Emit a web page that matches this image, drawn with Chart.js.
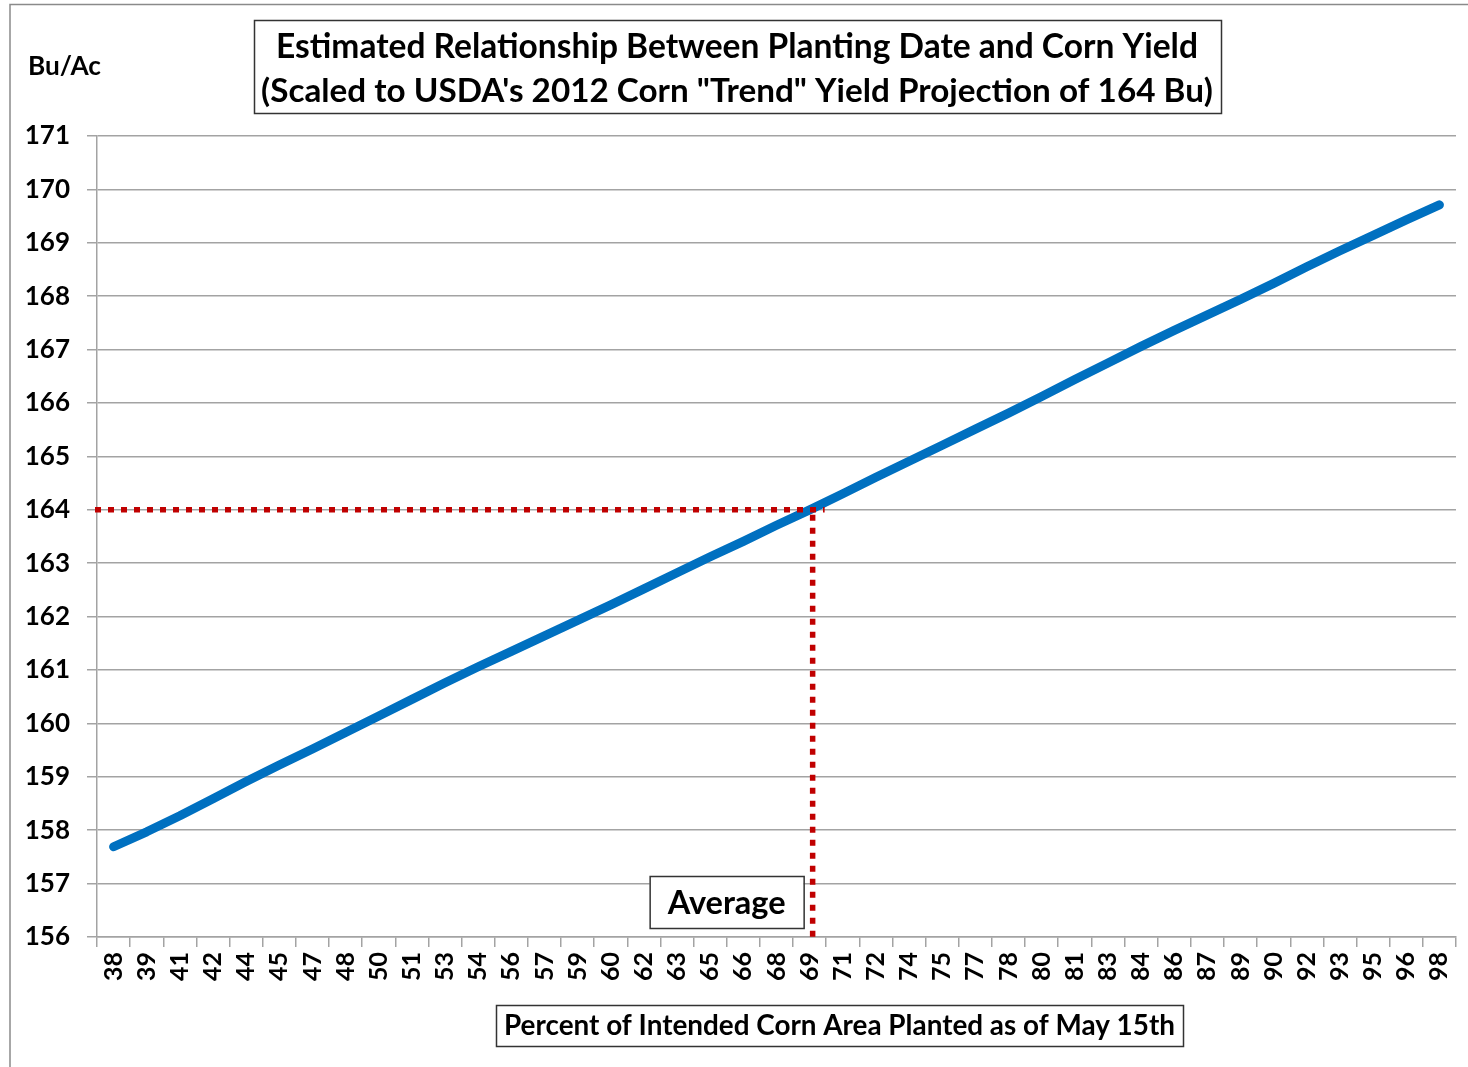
<!DOCTYPE html>
<html>
<head>
<meta charset="utf-8">
<script src="https://cdn.jsdelivr.net/npm/chart.js@4/dist/chart.umd.min.js"></script>
<style>
  html, body { margin: 0; padding: 0; background: #ffffff; }
  #wrap { width: 1468px; height: 1067px; position: relative; }
</style>
</head>
<body>
<div id="wrap"><canvas id="c" width="1468" height="1067"></canvas></div>
<script>
// ---- Data ----
const categories = ['38','39','41','42','44','45','47','48','50','51','53','54','56','57','59','60','62','63','65','66','68','69','71','72','74','75','77','78','80','81','83','84','86','87','89','90','92','93','95','96','98'];
const yieldValues = [157.69,157.97,158.27,158.59,158.91,159.22,159.52,159.83,160.14,160.45,160.76,161.06,161.35,161.64,161.93,162.22,162.52,162.82,163.12,163.41,163.71,164.00,164.30,164.61,164.91,165.21,165.51,165.81,166.12,166.44,166.75,167.06,167.36,167.65,167.94,168.24,168.55,168.85,169.14,169.43,169.71];
const yMin = 156;
const yMax = 171;
const yStep = 1;
const averageCategory = '69';
const averageYield = 164;
const titleLines = ['Estimated Relationship Between Planting Date and Corn Yield', '(Scaled to USDA\'s 2012 Corn "Trend" Yield Projection of 164 Bu)'];
const yUnitLabel = 'Bu/Ac';
const averageLabel = 'Average';
const xTitle = 'Percent of Intended Corn Area Planted as of May 15th';

const FONT = 'Lato, "Open Sans", "DejaVu Sans", sans-serif';
const GRID = '#a3a3a3';

function fitFont(ctx, text, targetWidth, weight) {
  ctx.font = weight + ' 100px ' + FONT;
  const w = ctx.measureText(text).width;
  return 100 * targetWidth / w;
}

const annotations = {
  id: 'annotations',
  afterDatasetsDraw(chart) {
    const ctx = chart.ctx;
    const xs = chart.scales.x, ys = chart.scales.y;
    const area = chart.chartArea;
    const vx = xs.getPixelForValue(categories.indexOf(averageCategory)) + 3;
    const hy = ys.getPixelForValue(averageYield);
    ctx.save();
    ctx.strokeStyle = '#C00000';
    ctx.lineWidth = 5.5;
    ctx.setLineDash([6, 7]);
    ctx.lineCap = 'butt';
    ctx.beginPath();
    ctx.moveTo(area.left - 2, hy);
    ctx.lineTo(vx + 12, hy);
    ctx.stroke();
    ctx.beginPath();
    ctx.moveTo(vx, hy + 5);
    ctx.lineTo(vx, area.bottom);
    ctx.stroke();
    ctx.restore();
  },
  afterDraw(chart) {
    const ctx = chart.ctx;
    const xs = chart.scales.x;
    const area = chart.chartArea;
    ctx.save();
    // outer frame
    ctx.strokeStyle = '#8a8a8a';
    ctx.lineWidth = 1.5;
    ctx.beginPath();
    ctx.moveTo(10, 1067);
    ctx.lineTo(10, 4.5);
    ctx.lineTo(1468, 4.5);
    ctx.stroke();

    ctx.fillStyle = '#000';
    ctx.textAlign = 'center';
    ctx.textBaseline = 'middle';

    // title box
    ctx.strokeStyle = '#333';
    ctx.lineWidth = 1.5;
    ctx.strokeRect(254.5, 20.5, 967, 93);
    const s1 = fitFont(ctx, titleLines[0], 922, 'bold');
    const s2 = fitFont(ctx, titleLines[1], 952, 'bold');
    ctx.font = 'bold ' + s1.toFixed(2) + 'px ' + FONT;
    ctx.fillText(titleLines[0], 737, 47);
    ctx.font = 'bold ' + s2.toFixed(2) + 'px ' + FONT;
    ctx.fillText(titleLines[1], 737, 91);

    // unit label
    const su = fitFont(ctx, yUnitLabel, 73, 'bold');
    ctx.font = 'bold ' + su.toFixed(2) + 'px ' + FONT;
    ctx.textAlign = 'left';
    ctx.fillText(yUnitLabel, 28, 67);

    // Average box
    const vx = xs.getPixelForValue(categories.indexOf(averageCategory)) + 3;
    const bw = 154, bh = 52;
    const bx = vx - 9 - bw, by = area.bottom - 9 - bh;
    ctx.strokeStyle = '#333';
    ctx.fillStyle = '#fff';
    ctx.fillRect(bx, by, bw, bh);
    ctx.strokeRect(bx + 0.5, by + 0.5, bw, bh);
    ctx.fillStyle = '#000';
    ctx.textAlign = 'center';
    const sa = fitFont(ctx, averageLabel, 118, 'bold');
    ctx.font = 'bold ' + sa.toFixed(2) + 'px ' + FONT;
    ctx.fillText(averageLabel, bx + bw / 2, by + bh / 2 + 2);

    // x title box
    ctx.strokeRect(496.5, 1005.5, 687, 41);
    const sx = fitFont(ctx, xTitle, 671, 'bold');
    ctx.font = 'bold ' + sx.toFixed(2) + 'px ' + FONT;
    ctx.fillText(xTitle, 839.5, 1026);
    ctx.restore();
  }
};

new Chart(document.getElementById('c'), {
  type: 'line',
  data: {
    labels: categories,
    datasets: [{
      data: yieldValues,
      borderColor: '#0070C0',
      borderWidth: 9,
      borderCapStyle: 'round',
      borderJoinStyle: 'round',
      pointRadius: 0,
      tension: 0,
      fill: false
    }]
  },
  options: {
    responsive: false,
    animation: false,
    events: [],
    layout: { padding: { left: 0, top: 136, right: 12, bottom: 0 } },
    plugins: { legend: { display: false }, title: { display: false }, tooltip: { enabled: false } },
    scales: {
      x: {
        type: 'category',
        offset: true,
        grid: { offset: true, drawOnChartArea: false, drawTicks: true, tickLength: 10, color: GRID, lineWidth: 1.5 },
        border: { display: true, color: GRID, width: 1.5 },
        ticks: {
          autoSkip: false, minRotation: 90, maxRotation: 90, padding: 5,
          color: '#000', font: { family: FONT, size: 25, weight: 'bold' }
        },
        afterFit(scale) { scale.height = 130; scale.paddingLeft = 0; scale.paddingRight = 0; }
      },
      y: {
        min: yMin, max: yMax,
        grid: { drawOnChartArea: true, drawTicks: true, tickLength: 10, color: GRID, lineWidth: 1.5 },
        border: { display: true, color: GRID, width: 1.5 },
        ticks: {
          stepSize: yStep, padding: 17,
          color: '#000', font: { family: FONT, size: 26, weight: 'bold' }
        },
        afterFit(scale) { scale.width = 97; scale.paddingTop = 0; scale.paddingBottom = 0; }
      }
    }
  },
  plugins: [annotations]
});
</script>
</body>
</html>
